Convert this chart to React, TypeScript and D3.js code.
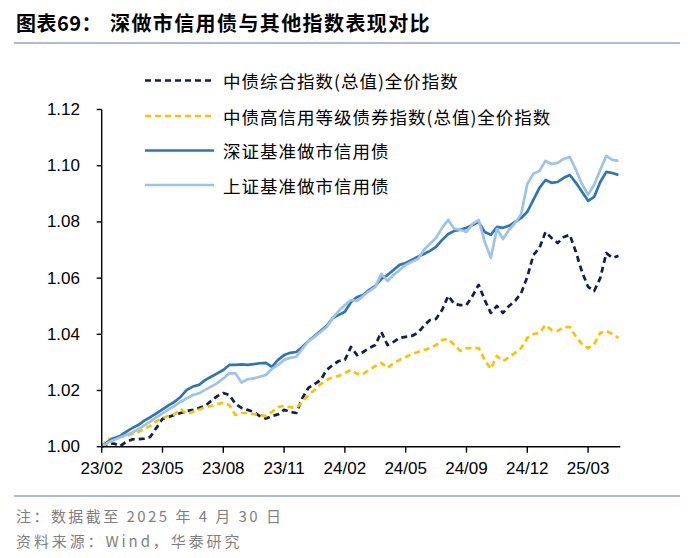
import React from "react";
import * as d3 from "d3";

const xTickLabels = ["23/02", "23/05", "23/08", "23/11", "24/02", "24/05", "24/09", "24/12", "25/03"];
const xTickIndex = [0, 10, 20, 30, 40, 50, 60, 70, 80];
const yTicks = [1.0, 1.02, 1.04, 1.06, 1.08, 1.1, 1.12];

const seriesNames = [
  "中债综合指数(总值)全价指数",
  "中债高信用等级债券指数(总值)全价指数",
  "深证基准做市信用债",
  "上证基准做市信用债",
];

const chinaBondComposite = [
  1.0, 1.001, 1.0011, 1.0002, 1.0017, 1.0026, 1.0027, 1.0029, 1.0035, 1.0067,
  1.0099, 1.0106, 1.0113, 1.012, 1.0127, 1.0131, 1.0138, 1.0145, 1.0163, 1.018,
  1.0191, 1.0184, 1.0152, 1.0138, 1.0131, 1.0124, 1.0109, 1.01, 1.0109, 1.0115,
  1.0131, 1.0124, 1.012, 1.0173, 1.0209, 1.0223, 1.0237, 1.0273, 1.0291, 1.0305,
  1.0309, 1.0355, 1.0326, 1.0337, 1.0351, 1.0362, 1.0408, 1.0362, 1.0373, 1.0387,
  1.0391, 1.0394, 1.0405, 1.043, 1.0451, 1.0455, 1.0487, 1.0537, 1.0508, 1.0504,
  1.0504, 1.0537, 1.0576, 1.0522, 1.0476, 1.0501, 1.0476, 1.0501, 1.0519, 1.0547,
  1.0604, 1.0682, 1.0707, 1.0764, 1.0743, 1.0725, 1.0746, 1.0754, 1.0693, 1.0622,
  1.0569, 1.0554, 1.06, 1.0689, 1.0672, 1.0679,
];

const chinaBondHighGrade = [
  1.0, 1.0027, 1.0031, 1.0035, 1.0038, 1.0045, 1.0052, 1.0063, 1.0074, 1.0091,
  1.0102, 1.0109, 1.0116, 1.0134, 1.0116, 1.0124, 1.0131, 1.0141, 1.0145, 1.0152,
  1.0156, 1.0148, 1.0113, 1.012, 1.012, 1.0116, 1.0113, 1.0109, 1.0124, 1.0141,
  1.0145, 1.0141, 1.0138, 1.0159, 1.0184, 1.0202, 1.0223, 1.0237, 1.0248, 1.0252,
  1.0262, 1.0273, 1.0259, 1.0259, 1.0273, 1.0287, 1.0298, 1.028, 1.0298, 1.0309,
  1.0319, 1.033, 1.0337, 1.0344, 1.0351, 1.0362, 1.038, 1.0383, 1.0362, 1.0341,
  1.0351, 1.0351, 1.0351, 1.0309, 1.0277, 1.0323, 1.0305, 1.0319, 1.0334, 1.0351,
  1.0387, 1.0401, 1.0405, 1.0433, 1.0415, 1.0412, 1.0426, 1.0426, 1.0391, 1.0365,
  1.0351, 1.0365, 1.0405, 1.0412, 1.0401, 1.0387,
];

const shenzhenMM = [
  1.0, 1.0018, 1.003, 1.0038, 1.0053, 1.0066, 1.0077, 1.0093, 1.0105, 1.0119,
  1.0133, 1.0147, 1.016, 1.0178, 1.0202, 1.0214, 1.022, 1.0237, 1.0249, 1.0261,
  1.0273, 1.0291, 1.0291, 1.0293, 1.0291, 1.0294, 1.0297, 1.0298, 1.0284, 1.0309,
  1.0326, 1.0334, 1.0337, 1.0355, 1.0376, 1.0394, 1.0412, 1.043, 1.0458, 1.0469,
  1.048, 1.0515, 1.0533, 1.054, 1.0558, 1.0572, 1.0597, 1.0611, 1.0629, 1.0647,
  1.0654, 1.0665, 1.0676, 1.0686, 1.0697, 1.0711, 1.0736, 1.0757, 1.0768, 1.0772,
  1.0779, 1.0789, 1.08, 1.0764, 1.0754, 1.0782, 1.0779, 1.0786, 1.08, 1.0814,
  1.0836, 1.0878, 1.0921, 1.0949, 1.0939, 1.0942, 1.0957, 1.0967, 1.0939, 1.0907,
  1.0875, 1.0889, 1.0942, 1.0978, 1.0974, 1.0967,
];

const shanghaiMM = [
  1.0, 1.0014, 1.0024, 1.0033, 1.0042, 1.005, 1.0062, 1.0076, 1.0089, 1.0105,
  1.0119, 1.0133, 1.0145, 1.016, 1.0172, 1.0184, 1.019, 1.0202, 1.0214, 1.0226,
  1.0243, 1.0261, 1.0261, 1.0228, 1.024, 1.0243, 1.0249, 1.0255, 1.0277, 1.0291,
  1.0309, 1.0316, 1.032, 1.0348, 1.0376, 1.0391, 1.0408, 1.0426, 1.0458, 1.0483,
  1.0504, 1.0522, 1.0519, 1.0536, 1.0554, 1.0569, 1.0615, 1.059, 1.0611, 1.0629,
  1.0647, 1.0658, 1.0668, 1.07, 1.0722, 1.0743, 1.0779, 1.0807, 1.0775, 1.0772,
  1.0764, 1.0793, 1.0807, 1.0729, 1.0672, 1.0775, 1.0739, 1.0772, 1.0796, 1.0828,
  1.0935, 1.0971, 1.0981, 1.1017, 1.1006, 1.101, 1.1024, 1.1031, 1.0985, 1.0935,
  1.0896, 1.0932, 1.0985, 1.1035, 1.1021, 1.1017,
];

const colors = ["#0F1F4F", "#FFC000", "#2E75B6", "#9DC3E6"];
const dashes = ["6,4", "6,4", null, null];

export default function App() {
  const W = 700;
  const H = 558;
  const left = 101.7;
  const bottom = 446.7;
  const x = d3.scaleLinear().domain([0, 85.3]).range([left, 620.3]);
  const y = d3.scaleLinear().domain([1.0, 1.12]).range([bottom, 109.5]);
  const all = [chinaBondComposite, chinaBondHighGrade, shenzhenMM, shanghaiMM];
  const line = d3
    .line<number>()
    .x((_, i) => x(i))
    .y((d) => y(d))
    .curve(d3.curveLinear);

  const cjk = "'Noto Sans CJK SC', 'Noto Sans', sans-serif";
  const latin = "'Liberation Sans', Arial, sans-serif";
  const legendY = [80.5, 116, 150.5, 185];

  return (
    <div style={{ position: "absolute", left: 0, top: 0, width: W, height: H, background: "#fff" }}>
      <svg width={W} height={H} viewBox={`0 0 ${W} ${H}`} style={{ display: "block" }}>
        <rect width={W} height={H} fill="#fff" />
        <text x={16} y={22} dominantBaseline="central" fontFamily={cjk} fontWeight={700} fontSize={20} letterSpacing={0.5} fill="#000">
          图表69：
        </text>
        <text x={110} y={22} dominantBaseline="central" fontFamily={cjk} fontWeight={700} fontSize={20} letterSpacing={1.4} fill="#000">
          深做市信用债与其他指数表现对比
        </text>
        <line x1={14} x2={680} y1={43} y2={43} stroke="#8FA7C9" strokeWidth={1.3} />

        {all.map((s, k) => (
          <path
            key={k}
            d={line(s) || ""}
            fill="none"
            stroke={colors[k]}
            strokeWidth={2.7}
            strokeDasharray={dashes[k] || undefined}
            strokeLinejoin="round"
          />
        ))}

        <line x1={left} x2={left} y1={y(1.12)} y2={bottom} stroke="#000" strokeWidth={1.4} />
        {yTicks.map((t) => (
          <g key={t}>
            <line x1={left - 5} x2={left} y1={y(t)} y2={y(t)} stroke="#000" strokeWidth={1.4} />
            <text
              x={80}
              y={y(t)}
              textAnchor="end"
              dominantBaseline="central"
              fontFamily={latin}
              fontSize={17}
              fill="#000"
            >
              {t.toFixed(2)}
            </text>
          </g>
        ))}

        <line x1={left} x2={620.3} y1={bottom} y2={bottom} stroke="#000" strokeWidth={1.4} />
        {xTickIndex.map((t, k) => (
          <g key={t}>
            <line x1={x(t)} x2={x(t)} y1={bottom} y2={bottom + 6} stroke="#000" strokeWidth={1.4} />
            <text
              x={x(t)}
              y={468}
              textAnchor="middle"
              dominantBaseline="central"
              fontFamily={latin}
              fontSize={17}
              fill="#000"
            >
              {xTickLabels[k]}
            </text>
          </g>
        ))}

        {seriesNames.map((n, k) => (
          <g key={n}>
            <line
              x1={145}
              x2={214}
              y1={legendY[k]}
              y2={legendY[k]}
              stroke={colors[k]}
              strokeWidth={2.7}
              strokeDasharray={dashes[k] || undefined}
            />
            <text
              x={223}
              y={legendY[k]}
              dominantBaseline="central"
              fontFamily={cjk}
              fontSize={17.5}
              letterSpacing={1}
              fill="#000"
            >
              {n}
            </text>
          </g>
        ))}

        <line x1={14} x2={680} y1={496} y2={496} stroke="#8FA7C9" strokeWidth={1.3} />
        <text x={16} y={515} dominantBaseline="central" fontFamily={cjk} fontSize={15} letterSpacing={2.45} fill="#7F7F7F">
          注：数据截至 2025 年 4 月 30 日
        </text>
        <text x={16} y={540} dominantBaseline="central" fontFamily={cjk} fontSize={15} letterSpacing={2.9} fill="#7F7F7F">
          资料来源：Wind，华泰研究
        </text>
      </svg>
    </div>
  );
}
